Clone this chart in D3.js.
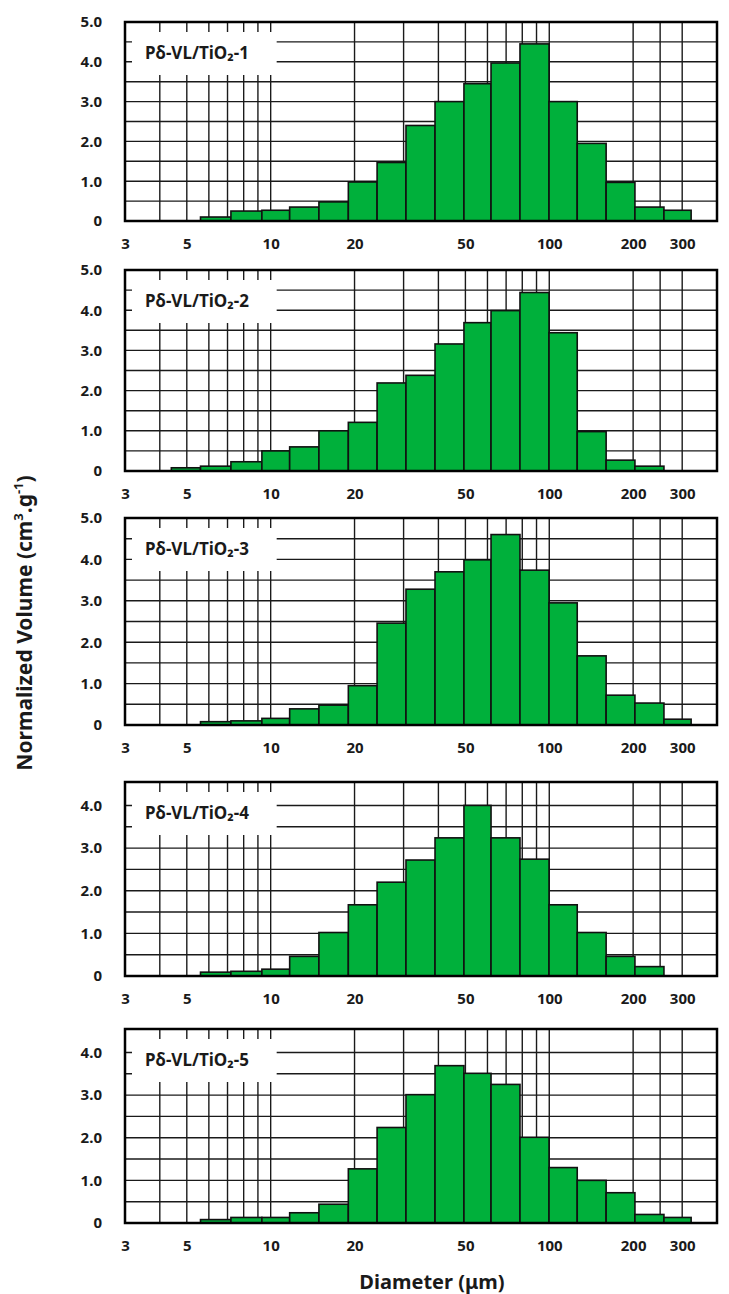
<!DOCTYPE html>
<html>
<head>
<meta charset="utf-8">
<script src="https://cdn.jsdelivr.net/npm/d3@7"></script>
<style>
  body { margin: 0; background: #fff; }
  svg text { font-family: "Noto Sans", sans-serif; font-weight: bold; fill: #1a1a1a; }
</style>
</head>
<body>
<div id="chart"></div>
<script>
// Diameter bin edges (µm), shared by the five samples
var binEdges = [4.4, 5.6, 7.2, 9.3, 11.7, 14.9, 19.0, 24.1, 30.6, 38.9, 49.4, 61.8, 78.5, 99.8, 126, 160, 203, 258, 323];

var sampleNames = ["Pδ-VL/TiO₂-1", "Pδ-VL/TiO₂-2", "Pδ-VL/TiO₂-3", "Pδ-VL/TiO₂-4", "Pδ-VL/TiO₂-5"];

// Normalized volume per bin (null = no bar)
var vol1 = [null, 0.10, 0.25, 0.27, 0.35, 0.48, 0.98, 1.47, 2.40, 3.00, 3.45, 3.97, 4.45, 3.00, 1.95, 0.97, 0.35, 0.27];
var vol2 = [0.08, 0.12, 0.23, 0.50, 0.60, 1.00, 1.21, 2.19, 2.38, 3.16, 3.69, 3.99, 4.44, 3.44, 0.98, 0.27, 0.12, null];
var vol3 = [null, 0.08, 0.10, 0.16, 0.39, 0.48, 0.95, 2.46, 3.28, 3.70, 3.99, 4.60, 3.74, 2.95, 1.67, 0.72, 0.53, 0.14];
var vol4 = [null, 0.09, 0.11, 0.16, 0.46, 1.02, 1.67, 2.20, 2.72, 3.24, 4.00, 3.24, 2.74, 1.67, 1.02, 0.46, 0.22, null];
var vol5 = [null, 0.08, 0.13, 0.13, 0.24, 0.44, 1.27, 2.24, 3.01, 3.69, 3.51, 3.25, 2.01, 1.30, 1.00, 0.71, 0.20, 0.13];

// Axis ticks
var xTickValues = [3, 5, 10, 20, 50, 100, 200, 300];
var xGridValues = [4, 5, 6, 7, 8, 9, 10, 20, 30, 40, 50, 60, 70, 80, 90, 100, 200, 250, 300];
var yTicksTall = [0, 1, 2, 3, 4, 5];
var yTicksShort = [0, 1, 2, 3, 4];

var W = 729, H = 1294;
var left = 125, right = 717;

// panel frames (layout only)
var panels = [
  {top: 22,   bottom: 221,  yMax: 5,    ticks: yTicksTall,  values: vol1},
  {top: 270,  bottom: 471,  yMax: 5,    ticks: yTicksTall,  values: vol2},
  {top: 518,  bottom: 725,  yMax: 5,    ticks: yTicksTall,  values: vol3},
  {top: 782,  bottom: 976,  yMax: 4.55, ticks: yTicksShort, values: vol4},
  {top: 1029, bottom: 1223, yMax: 4.55, ticks: yTicksShort, values: vol5}
];

var GREEN = "#00b03b";

var svg = d3.select("#chart").append("svg")
  .attr("width", W)
  .attr("height", H);

svg.append("rect").attr("width", W).attr("height", H).attr("fill", "#fff");

var x = d3.scaleLog()
  .domain([3, 400])
  .range([left, right]);

panels.forEach(function(p, k) {
  var y = d3.scaleLinear()
    .domain([0, p.yMax])
    .range([p.bottom, p.top]);

  var g = svg.append("g").attr("class", "panel");

  // grid
  var hGrid = d3.range(0.5, p.yMax - 0.2, 0.5);
  g.selectAll("line.hgrid")
    .data(hGrid)
    .enter().append("line")
    .attr("class", "hgrid")
    .attr("x1", left).attr("x2", right)
    .attr("y1", function(d) { return y(d); })
    .attr("y2", function(d) { return y(d); })
    .attr("stroke", "#1a1a1a")
    .attr("stroke-width", 1.4);

  g.selectAll("line.vgrid")
    .data(xGridValues)
    .enter().append("line")
    .attr("class", "vgrid")
    .attr("x1", function(d) { return x(d); })
    .attr("x2", function(d) { return x(d); })
    .attr("y1", p.top).attr("y2", p.bottom)
    .attr("stroke", "#1a1a1a")
    .attr("stroke-width", 1.4);

  // sample label box
  g.append("rect")
    .attr("x", left + 7)
    .attr("y", p.top + 10)
    .attr("width", x(10) + 6 - (left + 7))
    .attr("height", 43)
    .attr("fill", "#fff");

  g.append("text")
    .attr("x", left + 20)
    .attr("y", p.top + 37)
    .style("font-size", "17px")
    .text(sampleNames[k]);

  // bars
  var bars = p.values.map(function(v, i) { return {i: i, v: v}; })
    .filter(function(d) { return d.v != null; });

  g.selectAll("rect.bar")
    .data(bars)
    .enter().append("rect")
    .attr("class", "bar")
    .attr("x", function(d) { return x(binEdges[d.i]); })
    .attr("width", function(d) { return x(binEdges[d.i + 1]) - x(binEdges[d.i]); })
    .attr("y", function(d) { return y(d.v); })
    .attr("height", function(d) { return y(0) - y(d.v); })
    .attr("fill", GREEN)
    .attr("stroke", "#111")
    .attr("stroke-width", 1.6);

  // frame
  g.append("rect")
    .attr("x", left).attr("y", p.top)
    .attr("width", right - left)
    .attr("height", p.bottom - p.top)
    .attr("fill", "none")
    .attr("stroke", "#000")
    .attr("stroke-width", 2.5);

  // y axis labels
  var yAxis = d3.axisLeft(y)
    .tickValues(p.ticks)
    .tickSize(0)
    .tickPadding(23)
    .tickFormat(function(d) { return d === 0 ? "0" : d.toFixed(1); });
  var ya = g.append("g")
    .attr("transform", "translate(" + left + ",0)")
    .call(yAxis);
  ya.select(".domain").remove();
  ya.selectAll("text").style("font-size", "15px").attr("fill", null);

  // x axis labels
  var xAxis = d3.axisBottom(x)
    .tickValues(xTickValues)
    .tickSize(0)
    .tickPadding(17)
    .tickFormat(d3.format("d"));
  var xa = g.append("g")
    .attr("transform", "translate(0," + p.bottom + ")")
    .call(xAxis);
  xa.select(".domain").remove();
  xa.selectAll("text").style("font-size", "15px").attr("fill", null);
});
svg.selectAll(".tick text").attr("font-family", null);

// axis titles
var yTitle = svg.append("text")
  .attr("transform", "translate(32,623) rotate(-90)")
  .attr("text-anchor", "middle")
  .style("font-size", "21px");
yTitle.append("tspan").text("Normalized Volume (cm");
yTitle.append("tspan").attr("baseline-shift", "super").style("font-size", "13px").text("3");
yTitle.append("tspan").text(".g");
yTitle.append("tspan").attr("baseline-shift", "super").style("font-size", "13px").text("-1");
yTitle.append("tspan").text(")");

svg.append("text")
  .attr("x", 432)
  .attr("y", 1289)
  .attr("text-anchor", "middle")
  .style("font-size", "20px")
  .text("Diameter (μm)");
</script>
</body>
</html>
